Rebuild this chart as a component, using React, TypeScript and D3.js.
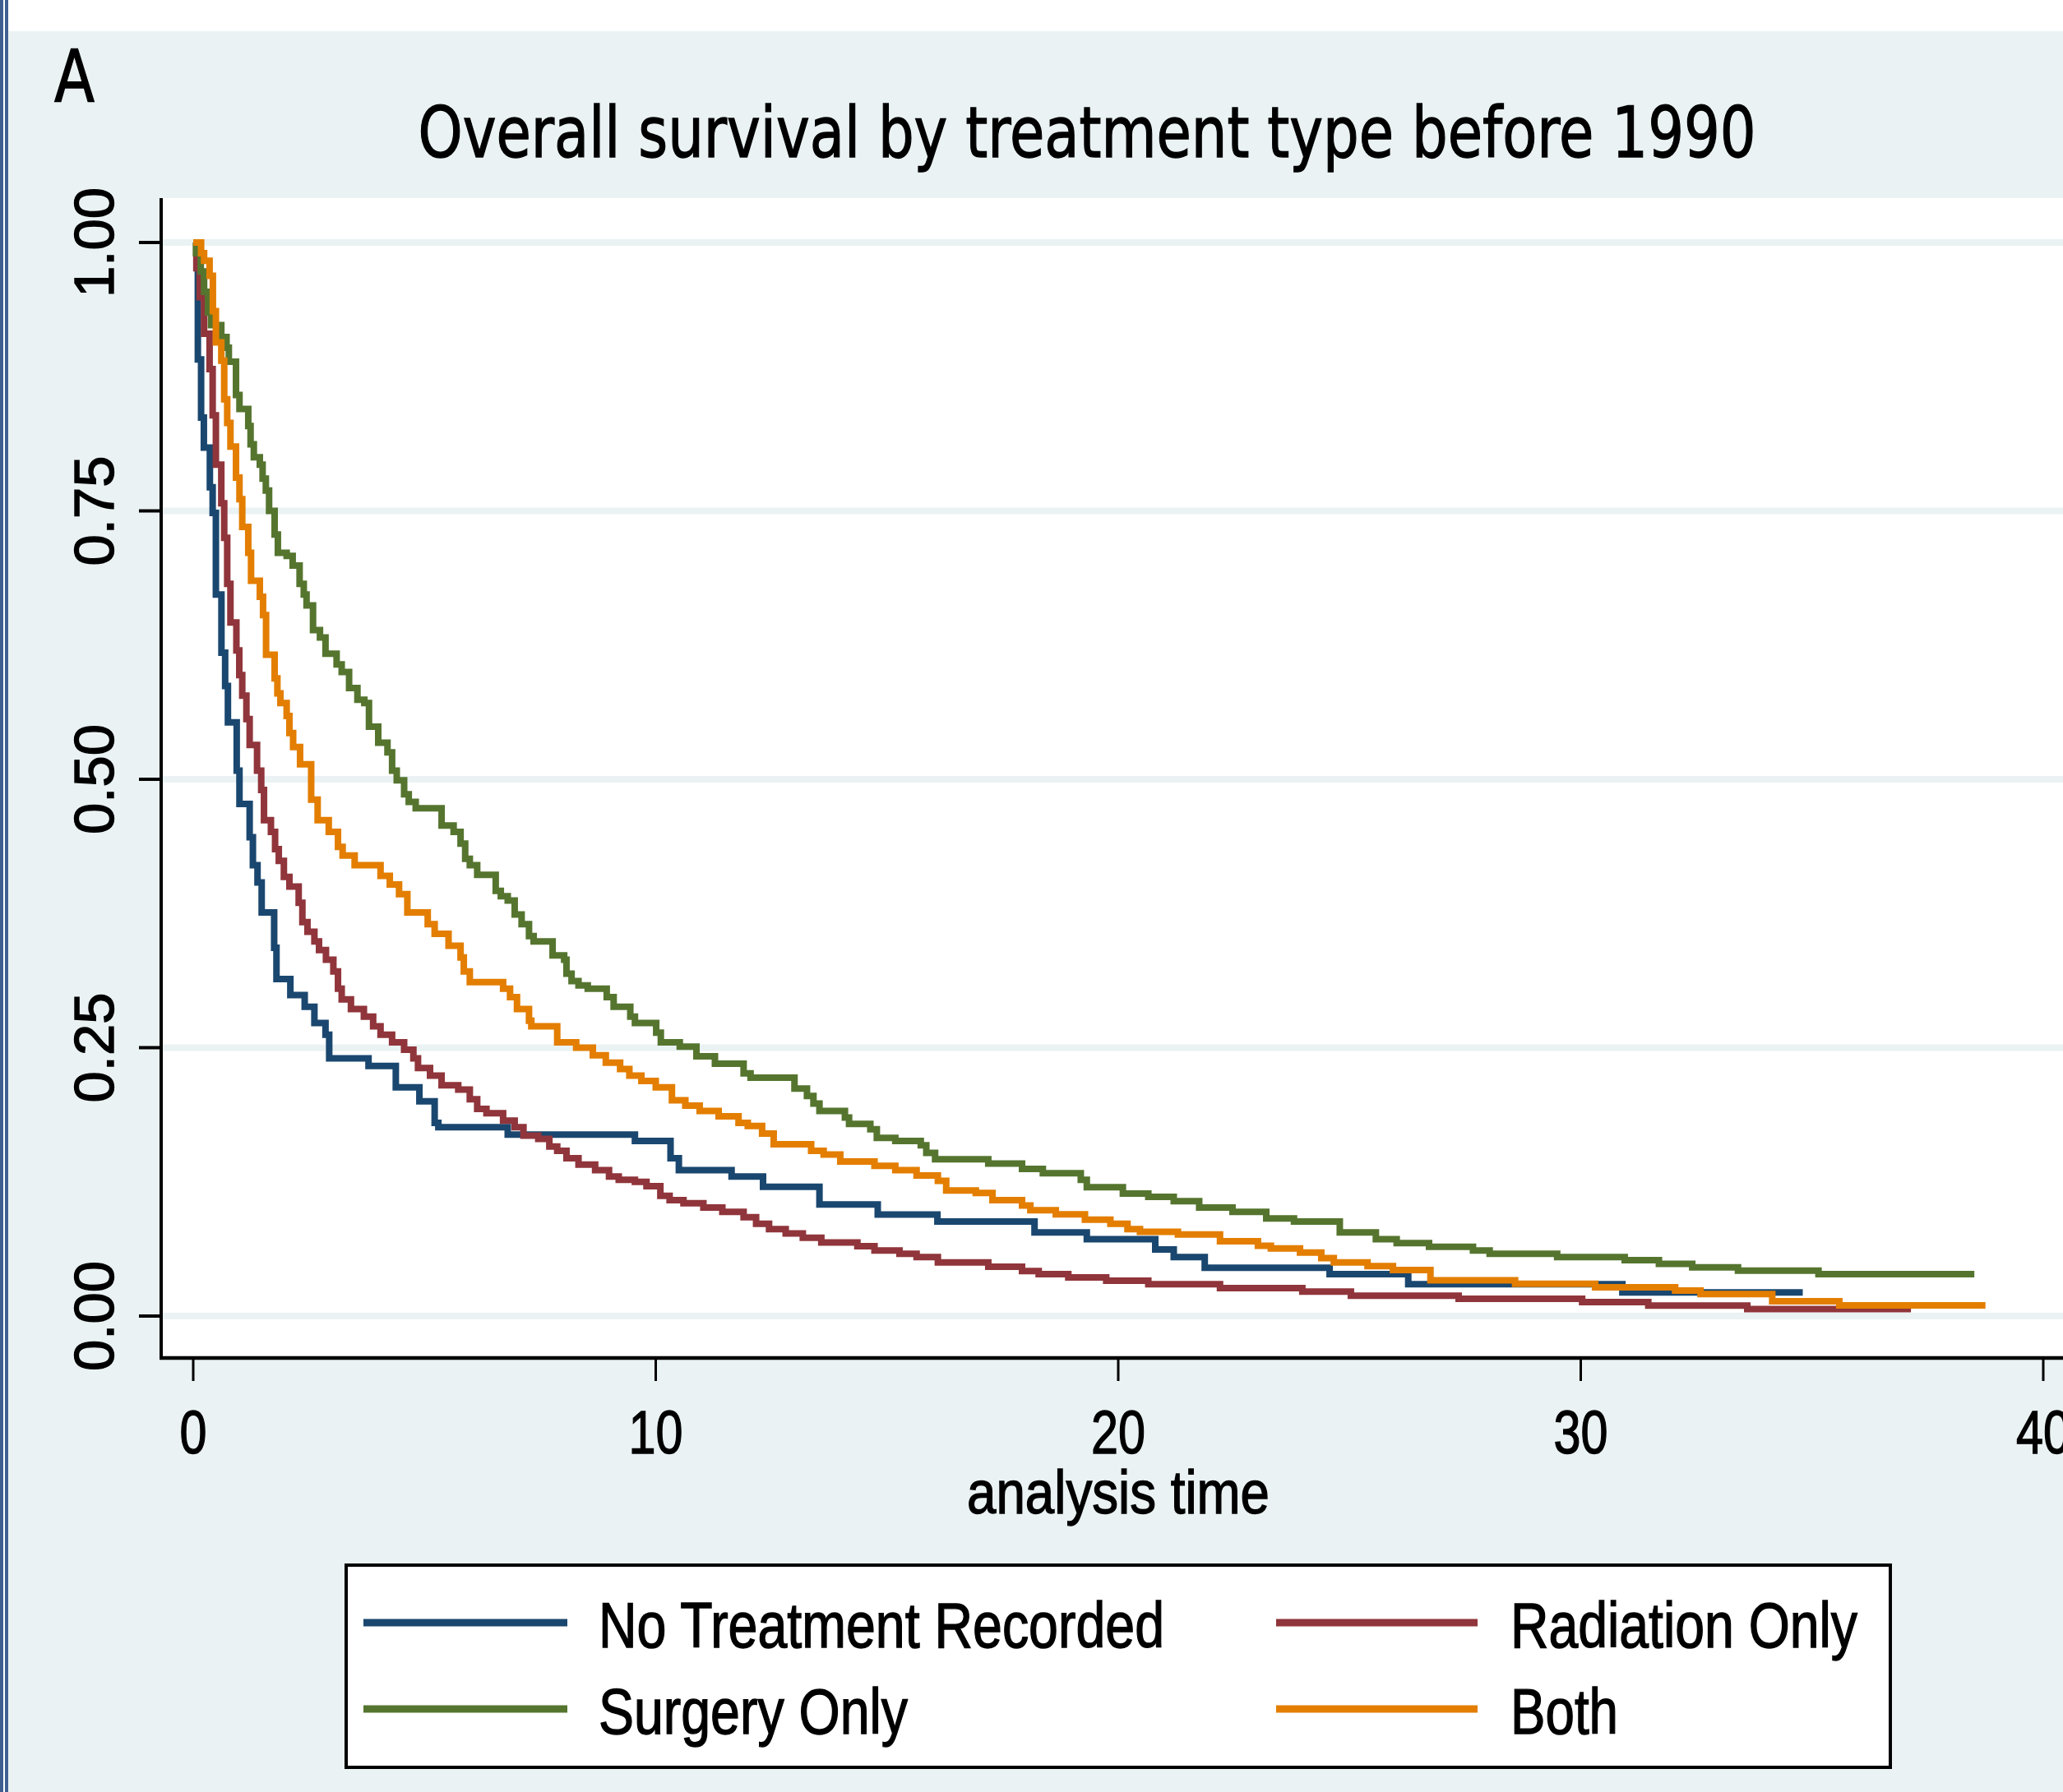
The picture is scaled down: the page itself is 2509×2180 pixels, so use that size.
import React from 'react';
import * as d3 from 'd3';

const width = 2509;
const height = 2180;

// Kaplan-Meier step points: [analysis time, survival]
const noTreatment = [
  [0, 1], [0.1, 0.891], [0.17, 0.837], [0.23, 0.809], [0.36, 0.772], [0.42, 0.748],
  [0.49, 0.672], [0.61, 0.618], [0.69, 0.587], [0.75, 0.553], [0.94, 0.508], [1.0, 0.477],
  [1.22, 0.446], [1.29, 0.42], [1.39, 0.404], [1.48, 0.376], [1.75, 0.343], [1.8, 0.314],
  [2.1, 0.299], [2.41, 0.288], [2.62, 0.273], [2.86, 0.262], [2.94, 0.24], [3.79, 0.233],
  [4.38, 0.213], [4.89, 0.2], [5.22, 0.18], [5.3, 0.176], [6.8, 0.169], [9.55, 0.163],
  [10.32, 0.147], [10.5, 0.136], [11.64, 0.13], [12.32, 0.1205], [13.54, 0.104], [14.8, 0.0945],
  [16.09, 0.088], [18.19, 0.078], [19.32, 0.0716], [20.8, 0.062], [21.2, 0.055], [21.87, 0.045],
  [24.57, 0.039], [26.27, 0.0296], [30.9, 0.022], [34.8, 0.022],
];

const radiationOnly = [
  [0, 1], [0.068, 0.976], [0.14, 0.949], [0.235, 0.915], [0.354, 0.882], [0.42, 0.839],
  [0.49, 0.793], [0.607, 0.757], [0.67, 0.725], [0.735, 0.682], [0.805, 0.646], [0.933, 0.62],
  [0.996, 0.597], [1.06, 0.578], [1.15, 0.556], [1.22, 0.532], [1.38, 0.508], [1.47, 0.49],
  [1.53, 0.462], [1.68, 0.451], [1.77, 0.435], [1.85, 0.424], [1.96, 0.409], [2.08, 0.4],
  [2.28, 0.385], [2.36, 0.367], [2.47, 0.358], [2.62, 0.349], [2.72, 0.341], [2.87, 0.332],
  [3.03, 0.321], [3.13, 0.305], [3.21, 0.295], [3.41, 0.286], [3.69, 0.279], [3.89, 0.27],
  [4.05, 0.262], [4.3, 0.255], [4.56, 0.248], [4.76, 0.24], [4.86, 0.231], [5.12, 0.224],
  [5.37, 0.215], [5.73, 0.211], [5.98, 0.202], [6.14, 0.193], [6.34, 0.189], [6.7, 0.182],
  [6.95, 0.176], [7.14, 0.168], [7.46, 0.165], [7.7, 0.158], [7.87, 0.154], [8.07, 0.147],
  [8.33, 0.141], [8.69, 0.136], [8.99, 0.13], [9.2, 0.127], [9.55, 0.125], [9.8, 0.121],
  [10.1, 0.112], [10.3, 0.108], [10.6, 0.105], [11.03, 0.101], [11.44, 0.097], [11.9, 0.092],
  [12.17, 0.086], [12.45, 0.081], [12.81, 0.077], [13.18, 0.073], [13.58, 0.0685], [14.36, 0.065],
  [14.73, 0.061], [15.27, 0.058], [15.64, 0.055], [16.1, 0.05], [17.19, 0.046], [17.92, 0.042],
  [18.28, 0.039], [18.92, 0.036], [19.74, 0.033], [20.65, 0.0296], [22.2, 0.026], [23.98, 0.0227],
  [25.03, 0.019], [27.36, 0.016], [30.03, 0.013], [31.46, 0.0097], [33.6, 0.0066], [37.14, 0.0066],
];

const surgeryOnly = [
  [0, 1], [0.06, 0.99], [0.163, 0.973], [0.235, 0.954], [0.32, 0.935], [0.385, 0.923],
  [0.607, 0.912], [0.72, 0.902], [0.77, 0.889], [0.925, 0.858], [1.0, 0.845], [1.19, 0.829],
  [1.24, 0.812], [1.31, 0.8], [1.44, 0.793], [1.5, 0.78], [1.57, 0.769], [1.64, 0.75],
  [1.76, 0.728], [1.83, 0.711], [2.02, 0.708], [2.15, 0.699], [2.3, 0.682], [2.39, 0.672],
  [2.45, 0.662], [2.59, 0.639], [2.74, 0.632], [2.86, 0.617], [3.1, 0.607], [3.21, 0.6],
  [3.37, 0.585], [3.55, 0.574], [3.7, 0.571], [3.8, 0.549], [4.0, 0.534], [4.2, 0.525],
  [4.3, 0.508], [4.4, 0.499], [4.56, 0.486], [4.66, 0.479], [4.81, 0.473], [5.37, 0.457],
  [5.63, 0.451], [5.78, 0.44], [5.88, 0.426], [5.98, 0.42], [6.14, 0.411], [6.54, 0.396],
  [6.65, 0.391], [6.8, 0.387], [6.95, 0.374], [7.1, 0.365], [7.26, 0.354], [7.36, 0.349],
  [7.77, 0.336], [8.02, 0.332], [8.07, 0.319], [8.18, 0.312], [8.33, 0.308], [8.53, 0.305],
  [8.94, 0.297], [9.09, 0.288], [9.45, 0.279], [9.55, 0.273], [10.01, 0.264], [10.11, 0.255],
  [10.52, 0.251], [10.88, 0.242], [11.28, 0.235], [11.9, 0.226], [12.05, 0.222], [13.0, 0.212],
  [13.27, 0.205], [13.41, 0.198], [13.54, 0.191], [14.09, 0.185], [14.18, 0.179], [14.64, 0.174],
  [14.78, 0.166], [15.18, 0.163], [15.73, 0.159], [15.85, 0.152], [16.04, 0.146], [17.19, 0.142],
  [17.92, 0.137], [18.37, 0.133], [19.19, 0.127], [19.32, 0.12], [20.1, 0.114], [20.65, 0.111],
  [21.2, 0.107], [21.75, 0.101], [22.47, 0.097], [23.2, 0.091], [23.8, 0.088], [24.79, 0.078],
  [25.57, 0.0716], [26.02, 0.068], [26.72, 0.0645], [27.67, 0.061], [28.03, 0.058], [29.49, 0.055],
  [30.95, 0.052], [31.69, 0.0487], [32.41, 0.0454], [33.4, 0.0423], [35.14, 0.039], [38.51, 0.039],
];

const both = [
  [0, 1], [0.17, 0.99], [0.235, 0.983], [0.354, 0.969], [0.425, 0.936], [0.49, 0.907],
  [0.607, 0.89], [0.67, 0.854], [0.735, 0.832], [0.805, 0.81], [0.925, 0.781], [1.0, 0.761],
  [1.06, 0.735], [1.19, 0.711], [1.25, 0.685], [1.44, 0.67], [1.51, 0.653], [1.575, 0.616],
  [1.76, 0.594], [1.82, 0.58], [1.885, 0.571], [2.02, 0.559], [2.08, 0.543], [2.16, 0.53],
  [2.31, 0.514], [2.55, 0.481], [2.69, 0.462], [2.93, 0.451], [3.13, 0.437], [3.23, 0.429],
  [3.49, 0.42], [4.05, 0.41], [4.25, 0.402], [4.45, 0.393], [4.63, 0.376], [5.07, 0.365],
  [5.22, 0.356], [5.52, 0.345], [5.78, 0.334], [5.85, 0.321], [5.98, 0.311], [6.7, 0.305],
  [6.85, 0.297], [7.0, 0.286], [7.26, 0.275], [7.31, 0.27], [7.87, 0.255], [8.28, 0.25],
  [8.64, 0.243], [8.92, 0.236], [9.23, 0.23], [9.43, 0.224], [9.69, 0.219], [10.0, 0.213],
  [10.35, 0.201], [10.64, 0.196], [10.95, 0.191], [11.36, 0.186], [11.79, 0.18], [11.99, 0.177],
  [12.3, 0.17], [12.55, 0.16], [13.36, 0.154], [13.63, 0.1505], [13.99, 0.144], [14.73, 0.14],
  [15.18, 0.136], [15.64, 0.131], [16.1, 0.126], [16.28, 0.117], [16.92, 0.1147], [17.28, 0.108],
  [17.92, 0.103], [18.1, 0.0985], [18.65, 0.0948], [19.28, 0.0897], [19.83, 0.086], [20.2, 0.081],
  [20.47, 0.0785], [21.29, 0.076], [22.2, 0.0696], [23.02, 0.0655], [23.3, 0.0629], [23.93, 0.0591],
  [24.39, 0.054], [24.66, 0.05], [25.39, 0.0466], [25.94, 0.0428], [26.75, 0.0334], [28.58, 0.0301],
  [30.31, 0.0268], [32.04, 0.0237], [32.59, 0.0204], [34.14, 0.0138], [35.59, 0.0099], [38.75, 0.0099],
];

const seriesNames = ['No Treatment Recorded', 'Radiation Only', 'Surgery Only', 'Both'];
const seriesColors = ['#1a476f', '#90353b', '#55752f', '#e37e00'];
const seriesData = [noTreatment, radiationOnly, surgeryOnly, both];

const yTicks = [0, 0.25, 0.5, 0.75, 1];
const yTickLabels = ['0.00', '0.25', '0.50', '0.75', '1.00'];
const xTicks = [0, 10, 20, 30, 40];
const xTickLabels = ['0', '10', '20', '30', '40'];

const bg = '#eaf2f3';
const narrow = "'Liberation Sans Narrow', 'Liberation Sans', Arial, sans-serif";
// text in the original is rendered a bit heavy
const ink = { fill: '#000', stroke: '#000', strokeWidth: 1.4 };

// legend slots: [sample x1, sample x2, text x, baseline, text width]
const legendSlots = [
  [442, 690, 728, 2004, 688],
  [1552, 1797, 1837, 2004, 422],
  [442, 690, 728, 2109, 376],
  [1552, 1797, 1837, 2109, 131],
];

export default function App() {
  const x = d3.scaleLinear().domain([0, 40]).range([235, 2485]);
  const y = d3.scaleLinear().domain([0, 1]).range([1601, 295]);
  const line = d3.line<number[]>()
    .x((d) => x(d[0]))
    .y((d) => y(d[1]))
    .curve(d3.curveStepAfter);

  const plotLeft = 196;
  const plotTop = 241;
  const axisY = 1652;

  return (
    <svg width={width} height={height} style={{ position: 'absolute', left: 0, top: 0, display: 'block' }}>
      <rect x={0} y={0} width={width} height={height} fill="#ffffff" />
      <rect x={10} y={38} width={width - 10} height={height - 38} fill={bg} />
      <rect x={0} y={0} width={4} height={height} fill="#3f5f92" />
      <rect x={6} y={0} width={4} height={height} fill="#3f5f92" />

      <text x={66} y={123} fontFamily="'DejaVu Sans', sans-serif" fontSize={88}
        textLength={49} lengthAdjust="spacingAndGlyphs" {...ink}>A</text>
      <text x={1322} y={191} textAnchor="middle" fontFamily="'DejaVu Sans', sans-serif" fontSize={86}
        textLength={1627} lengthAdjust="spacingAndGlyphs" {...ink}>
        Overall survival by treatment type before 1990
      </text>

      {/* plot region */}
      <rect x={plotLeft} y={plotTop} width={width - plotLeft} height={axisY - plotTop} fill="#ffffff" />
      {yTicks.map((t) => (
        <line key={'g' + t} x1={plotLeft + 2} x2={width} y1={y(t)} y2={y(t)} stroke={bg} strokeWidth={8} />
      ))}

      {seriesData.map((d, i) => (
        <path key={seriesNames[i]} d={line(d) || ''} fill="none" stroke={seriesColors[i]}
          strokeWidth={8} strokeLinejoin="miter" strokeLinecap="butt" />
      ))}

      {/* axes */}
      <line x1={plotLeft} x2={plotLeft} y1={plotTop} y2={axisY + 2} stroke="#000" strokeWidth={4} />
      <line x1={plotLeft - 2} x2={width} y1={axisY} y2={axisY} stroke="#000" strokeWidth={4.5} />
      {yTicks.map((t, i) => (
        <g key={'yt' + t}>
          <line x1={169} x2={plotLeft} y1={y(t)} y2={y(t)} stroke="#000" strokeWidth={4} />
          <text transform={`translate(138,${y(t)}) rotate(-90)`} textAnchor="middle"
            fontFamily="'Liberation Sans', Arial, sans-serif" fontSize={68}
            textLength={134} lengthAdjust="spacingAndGlyphs" {...ink}>{yTickLabels[i]}</text>
        </g>
      ))}
      {xTicks.map((t, i) => (
        <g key={'xt' + t}>
          <line x1={x(t)} x2={x(t)} y1={axisY} y2={1680} stroke="#000" strokeWidth={3} />
          <text x={x(t)} y={1768} textAnchor="middle" fontFamily={narrow} fontSize={74}
            textLength={33 * xTickLabels[i].length} lengthAdjust="spacingAndGlyphs" {...ink}>
            {xTickLabels[i]}
          </text>
        </g>
      ))}
      <text x={1360} y={1841} textAnchor="middle" fontFamily={narrow} fontSize={75}
        textLength={368} lengthAdjust="spacingAndGlyphs" {...ink}>analysis time</text>

      {/* legend */}
      <rect x={421} y={1904} width={1878} height={246} fill="#ffffff" stroke="#000" strokeWidth={4} />
      {legendSlots.map((s, i) => (
        <g key={'lg' + i}>
          <line x1={s[0]} x2={s[1]} y1={s[3] - 30} y2={s[3] - 30} stroke={seriesColors[i]} strokeWidth={9} />
          <text x={s[2]} y={s[3]} fontFamily={narrow} fontSize={78}
            textLength={s[4]} lengthAdjust="spacingAndGlyphs" {...ink}>{seriesNames[i]}</text>
        </g>
      ))}
    </svg>
  );
}
